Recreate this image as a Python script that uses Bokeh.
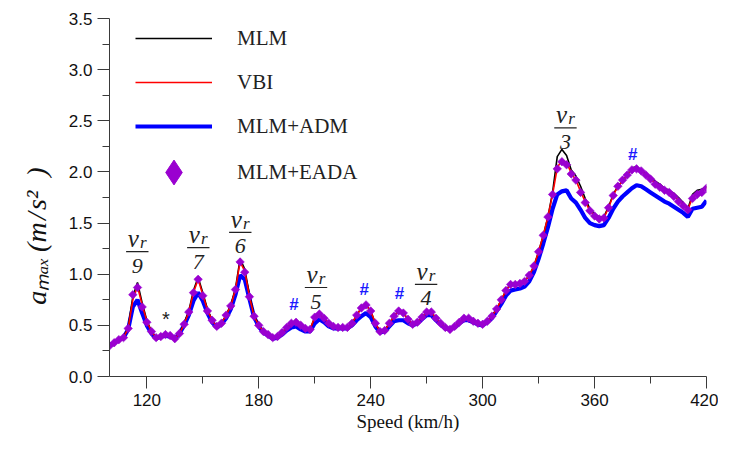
import numpy as np
from math import pi
from bokeh.plotting import figure
from bokeh.models import (ColumnDataSource, Legend, LegendItem, FixedTicker,
                          Range1d, PrintfTickFormatter)
from bokeh.core.properties import value
from bokeh.embed import file_html
from bokeh.resources import INLINE

# ---------------- data ----------------
speed = np.arange(100, 420.01, 2.5)  # km/h sample points

mlm = [
    0.30, 0.33, 0.36, 0.38, 0.48, 0.78, 0.92, 0.72, 0.55, 0.44,
    0.38, 0.39, 0.41, 0.40, 0.37, 0.42, 0.52, 0.64, 0.84, 0.97,
    0.82, 0.66, 0.55, 0.49, 0.52, 0.60, 0.70, 0.86, 1.15, 1.05,
    0.80, 0.60, 0.50, 0.44, 0.41, 0.38, 0.39, 0.43, 0.48, 0.52,
    0.53, 0.50, 0.47, 0.46, 0.58, 0.61, 0.57, 0.52, 0.49, 0.48,
    0.48, 0.48, 0.52, 0.60, 0.67, 0.70, 0.64, 0.52, 0.44, 0.45,
    0.52, 0.59, 0.64, 0.62, 0.56, 0.51, 0.53, 0.58, 0.63, 0.63,
    0.57, 0.52, 0.48, 0.46, 0.49, 0.53, 0.57, 0.57, 0.54, 0.52,
    0.51, 0.54, 0.59, 0.66, 0.75, 0.84, 0.91, 0.91, 0.91, 0.93,
    0.99, 1.08, 1.22, 1.38, 1.56, 1.80, 2.15, 2.22, 2.16, 2.02,
    1.96, 1.86, 1.74, 1.64, 1.59, 1.56, 1.56, 1.66, 1.78, 1.86,
    1.91, 1.97, 2.04, 2.05, 2.02, 1.98, 1.95, 1.91, 1.88, 1.84,
    1.82, 1.79, 1.75, 1.70, 1.64, 1.78, 1.82, 1.83, 1.86,
]

vbi = [
    0.30, 0.33, 0.36, 0.38, 0.47, 0.75, 0.88, 0.70, 0.54, 0.44,
    0.38, 0.39, 0.41, 0.40, 0.37, 0.42, 0.51, 0.63, 0.82, 0.95,
    0.80, 0.65, 0.55, 0.49, 0.52, 0.60, 0.69, 0.85, 1.12, 1.03,
    0.78, 0.59, 0.50, 0.44, 0.41, 0.38, 0.39, 0.43, 0.48, 0.52,
    0.53, 0.50, 0.47, 0.46, 0.58, 0.61, 0.57, 0.52, 0.49, 0.48,
    0.48, 0.48, 0.52, 0.60, 0.67, 0.70, 0.64, 0.52, 0.44, 0.45,
    0.52, 0.59, 0.64, 0.62, 0.56, 0.51, 0.53, 0.58, 0.63, 0.63,
    0.57, 0.52, 0.48, 0.46, 0.49, 0.53, 0.57, 0.57, 0.54, 0.52,
    0.51, 0.54, 0.59, 0.66, 0.75, 0.84, 0.90, 0.90, 0.91, 0.93,
    0.99, 1.08, 1.22, 1.38, 1.56, 1.78, 2.04, 2.12, 2.09, 1.99,
    1.92, 1.81, 1.71, 1.62, 1.57, 1.54, 1.55, 1.65, 1.77, 1.86,
    1.91, 1.97, 2.03, 2.04, 2.01, 1.97, 1.93, 1.89, 1.86, 1.83,
    1.80, 1.77, 1.72, 1.68, 1.63, 1.75, 1.79, 1.81, 1.85,
]

mlm_adm = [
    0.30, 0.33, 0.36, 0.38, 0.46, 0.68, 0.75, 0.62, 0.50, 0.42,
    0.37, 0.39, 0.40, 0.39, 0.37, 0.42, 0.50, 0.60, 0.74, 0.82,
    0.74, 0.62, 0.53, 0.48, 0.51, 0.57, 0.66, 0.80, 0.99, 0.95,
    0.76, 0.58, 0.49, 0.43, 0.40, 0.37, 0.38, 0.41, 0.45, 0.48,
    0.49, 0.46, 0.44, 0.44, 0.52, 0.56, 0.53, 0.49, 0.47, 0.47,
    0.47, 0.47, 0.50, 0.55, 0.59, 0.62, 0.58, 0.49, 0.43, 0.44,
    0.49, 0.54, 0.55, 0.55, 0.52, 0.50, 0.52, 0.56, 0.60, 0.60,
    0.55, 0.51, 0.47, 0.46, 0.48, 0.52, 0.55, 0.55, 0.53, 0.51,
    0.50, 0.53, 0.57, 0.64, 0.71, 0.79, 0.84, 0.85, 0.86, 0.88,
    0.93, 1.02, 1.15, 1.30, 1.46, 1.64, 1.78, 1.81, 1.82, 1.74,
    1.70, 1.63, 1.55, 1.50, 1.48, 1.47, 1.48, 1.55, 1.64, 1.71,
    1.76, 1.80, 1.84, 1.87, 1.86, 1.83, 1.80, 1.77, 1.74, 1.71,
    1.69, 1.66, 1.63, 1.60, 1.56, 1.64, 1.65, 1.66, 1.72,
]

mlm_eada = [
    0.30, 0.33, 0.36, 0.38, 0.47, 0.80, 0.87, 0.68, 0.53, 0.44,
    0.38, 0.39, 0.41, 0.40, 0.37, 0.42, 0.51, 0.63, 0.82, 0.95,
    0.79, 0.64, 0.55, 0.49, 0.52, 0.60, 0.69, 0.85, 1.12, 1.02,
    0.78, 0.59, 0.50, 0.44, 0.41, 0.38, 0.39, 0.43, 0.48, 0.52,
    0.53, 0.50, 0.47, 0.46, 0.58, 0.61, 0.57, 0.52, 0.49, 0.48,
    0.48, 0.48, 0.52, 0.60, 0.67, 0.70, 0.64, 0.52, 0.44, 0.45,
    0.52, 0.59, 0.64, 0.62, 0.56, 0.51, 0.53, 0.58, 0.63, 0.63,
    0.57, 0.52, 0.48, 0.46, 0.49, 0.53, 0.57, 0.57, 0.54, 0.52,
    0.51, 0.54, 0.59, 0.66, 0.75, 0.84, 0.90, 0.90, 0.91, 0.93,
    0.99, 1.08, 1.22, 1.38, 1.56, 1.78, 2.03, 2.10, 2.07, 1.98,
    1.92, 1.80, 1.70, 1.62, 1.57, 1.54, 1.55, 1.65, 1.77, 1.86,
    1.92, 1.97, 2.02, 2.03, 2.01, 1.97, 1.93, 1.88, 1.85, 1.82,
    1.80, 1.76, 1.71, 1.67, 1.63, 1.74, 1.78, 1.80, 1.84,
]

x_ticks = [120, 180, 240, 300, 360, 420]
x_minor = [150, 210, 270, 330, 390]
y_ticks = [0.0, 0.5, 1.0, 1.5, 2.0, 2.5, 3.0, 3.5]
y_minor = [0.25, 0.75, 1.25, 1.75, 2.25, 2.75, 3.25]

series_names = ["MLM", "VBI", "MLM+ADM", "MLM+EADA"]
x_title = "Speed (km/h)"
y_title = ("a\u2098\u2090\u2093\u2009(m\u200a/\u200as\u00b2\u00a0\u00a0)"
           + "\u00a0" * 11)

# resonance-speed annotations (v_r / n)
frac_x = [114.9, 147.6, 170.1, 210.7, 269.7, 344.4]
frac_y = [1.22, 1.26, 1.41, 0.87, 0.90, 2.43]
frac_den = ["9", "7", "6", "5", "4", "3"]

hash_x = [198.9, 236.6, 255.4, 380.5]
hash_y = [0.70, 0.85, 0.81, 2.17]
star_x = [130.2]
star_y = [0.56]

# ---------------- figure ----------------
p = figure(width=718, height=434, x_range=Range1d(100, 420), y_range=Range1d(0, 3.5),
           output_backend="svg", toolbar_location=None,
           min_border_left=109, min_border_right=12, min_border_top=18, min_border_bottom=56)
p.outline_line_color = None
p.xgrid.visible = False
p.ygrid.visible = False
p.background_fill_color = "white"
p.border_fill_color = "white"

AX = "#3a3a3a"
for ax in (p.xaxis[0], p.yaxis[0]):
    ax.axis_line_color = AX
    ax.major_tick_line_color = AX
    ax.minor_tick_line_color = AX
    ax.major_tick_in = 0
    ax.major_tick_out = 12
    ax.minor_tick_in = 0
    ax.minor_tick_out = 7
    ax.major_label_text_font = "Liberation Sans"
    ax.major_label_text_font_size = "17px"
    ax.major_label_text_color = "#111111"
    ax.major_label_standoff = 5
    ax.axis_label_text_font = "Liberation Serif"
    ax.axis_label_text_color = "#111111"

p.xaxis.ticker = FixedTicker(ticks=x_ticks, minor_ticks=x_minor)
p.yaxis.ticker = FixedTicker(ticks=y_ticks, minor_ticks=y_minor)
p.yaxis.formatter = PrintfTickFormatter(format="%.1f")

p.xaxis.axis_label = x_title
p.xaxis.axis_label_text_font_style = "normal"
p.xaxis.axis_label_text_font_size = "19px"
p.xaxis.axis_label_standoff = 2

p.yaxis.axis_label = y_title
p.yaxis.axis_label_text_font_style = "italic"
p.yaxis.axis_label_text_font_size = "28px"
p.yaxis.axis_label_standoff = 14

src = ColumnDataSource(dict(speed=speed, mlm=mlm, vbi=vbi, adm=mlm_adm, eada=mlm_eada))

PURPLE = "#9a00d0"
r_adm = p.line("speed", "adm", source=src, line_color="#0000ff", line_width=4.2)
r_mlm = p.line("speed", "mlm", source=src, line_color="black", line_width=1.6)
r_vbi = p.line("speed", "vbi", source=src, line_color="#ff0000", line_width=1.6)
r_eada = p.scatter("speed", "eada", source=src, marker="square", angle=pi / 4, size=6,
                   fill_color=PURPLE, line_color=PURPLE, line_alpha=0.6)
# diamond used only for the legend swatch (no visible point)
r_eada_leg = p.scatter(x=[np.nan], y=[np.nan], marker="diamond", size=27,
                       fill_color=PURPLE, line_color=PURPLE)

LEG_STYLE = dict(padding=0, margin=0, glyph_width=77, label_standoff=25,
                 label_text_font="Liberation Serif", label_text_font_size="21px",
                 label_text_color="#222222", border_line_alpha=0, background_fill_alpha=0)

legend_lines = Legend(items=[LegendItem(label=series_names[0], renderers=[r_mlm]),
                             LegendItem(label=series_names[1], renderers=[r_vbi]),
                             LegendItem(label=series_names[2], renderers=[r_adm])],
                      location=(26, 237), glyph_height=26, label_height=26, spacing=18,
                      **LEG_STYLE)
# separate one-row legend with a tall glyph box so that the diamond is large
legend_marker = Legend(items=[LegendItem(label=series_names[3], renderers=[r_eada_leg])],
                       location=(26, 173), glyph_height=62, label_height=62, spacing=0,
                       **LEG_STYLE)
p.add_layout(legend_lines)
p.add_layout(legend_marker)

# fraction annotations v_r / n
fsrc = ColumnDataSource(dict(x=frac_x, y=frac_y, den=frac_den,
                             x0=[v - 6 for v in frac_x], x1=[v + 6 for v in frac_x],
                             v=["v"] * len(frac_x), r=["r"] * len(frac_x)))
p.segment(x0="x0", y0="y", x1="x1", y1="y", source=fsrc, line_color="#222222", line_width=1.2)
p.text(x="x", y="y", text="v", source=fsrc, x_offset=-4, y_offset=-13,
       text_font=value("Liberation Serif"), text_font_style="italic", text_font_size="25px",
       text_align="center", text_baseline="middle", text_color="#222222")
p.text(x="x", y="y", text="r", source=fsrc, x_offset=6, y_offset=-9,
       text_font=value("Liberation Serif"), text_font_style="italic", text_font_size="17px",
       text_align="center", text_baseline="middle", text_color="#222222")
p.text(x="x", y="y", text="den", source=fsrc, x_offset=0, y_offset=14,
       text_font=value("Liberation Serif"), text_font_style="italic", text_font_size="22px",
       text_align="center", text_baseline="middle", text_color="#222222")

p.text(x=hash_x, y=hash_y, text=["#"] * len(hash_x),
       text_font=value("Liberation Sans"), text_font_size="17px", text_font_style="bold",
       text_color="#1a1aff", text_align="center", text_baseline="middle")
p.text(x=star_x, y=star_y, text=["*"] * len(star_x),
       text_font=value("Liberation Sans"), text_font_size="20px", text_color="#222222",
       text_align="center", text_baseline="middle")

open("out.html", "w").write(file_html(p, INLINE))
